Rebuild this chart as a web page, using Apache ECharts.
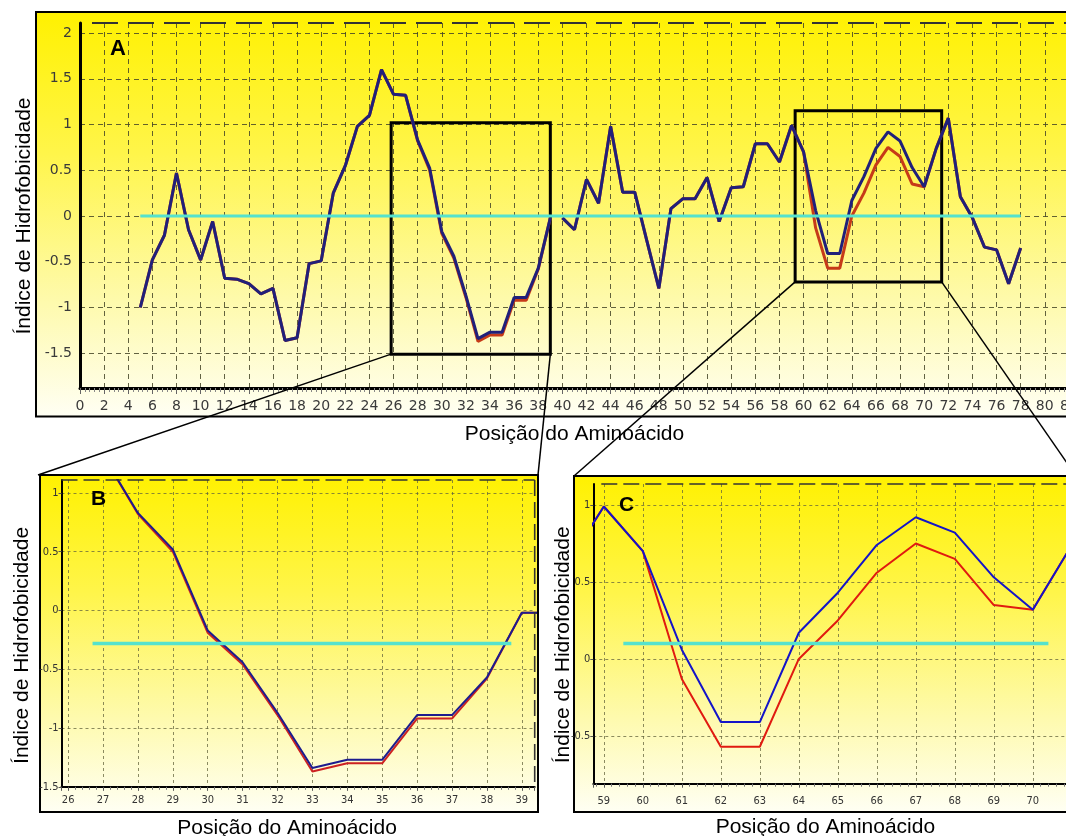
<!DOCTYPE html>
<html><head><meta charset="utf-8">
<script src="https://cdn.jsdelivr.net/npm/echarts@6/dist/echarts.min.js"></script>
<style>html,body{margin:0;padding:0;background:#fff}#c{width:1066px;height:836px}</style>
</head><body><div id="c"></div>
<script>
// ---------------- data ----------------
const positions = [5,6,7,8,9,10,11,12,13,14,15,16,17,18,19,20,21,22,23,24,25,26,27,28,29,30,31,32,33,34,35,36,37,38,39,40,41,42,43,44,45,46,47,48,49,50,51,52,53,54,55,56,57,58,59,60,61,62,63,64,65,66,67,68,69,70,71,72,73,74,75,76,77,78];
const hydroBlue = [-1.00,-0.48,-0.21,0.47,-0.15,-0.48,-0.06,-0.68,-0.69,-0.74,-0.85,-0.79,-1.36,-1.33,-0.52,-0.49,0.25,0.55,0.98,1.10,1.60,1.33,1.32,0.83,0.52,-0.17,-0.44,-0.87,-1.34,-1.27,-1.27,-0.89,-0.89,-0.57,-0.02,-0.02,-0.15,0.40,0.14,0.98,0.26,0.26,-0.27,-0.79,0.08,0.19,0.19,0.42,-0.06,0.31,0.32,0.79,0.79,0.59,0.99,0.70,0.06,-0.41,-0.41,0.17,0.43,0.74,0.92,0.82,0.53,0.32,0.74,1.07,0.21,-0.02,-0.34,-0.37,-0.74,-0.35];
const hydroRed  = [-1.00,-0.48,-0.21,0.47,-0.15,-0.48,-0.06,-0.68,-0.69,-0.74,-0.85,-0.79,-1.36,-1.33,-0.52,-0.49,0.25,0.55,0.98,1.10,1.60,1.33,1.32,0.82,0.50,-0.19,-0.46,-0.89,-1.37,-1.30,-1.30,-0.92,-0.92,-0.58,-0.02,-0.02,-0.15,0.40,0.14,0.98,0.26,0.26,-0.27,-0.79,0.08,0.19,0.19,0.42,-0.06,0.31,0.32,0.79,0.79,0.59,0.99,0.70,-0.13,-0.57,-0.57,0.00,0.25,0.56,0.75,0.65,0.35,0.32,0.74,1.07,0.21,-0.02,-0.34,-0.37,-0.74,-0.35];
const gapAfterA = 39;           // break drawn in panel A between 39 and 40
// reference (cyan) lines: [xStart, xEnd], level
const cyanSpanA = [5, 78],     cyanLevelA = 0;
const cyanSpanB = [26.7, 38.7], cyanLevelB = -0.28;
const cyanSpanC = [59.5, 70.4], cyanLevelC = 0.10;
// zoom boxes in panel A: [xMin, xMax, yMin, yMax]
const boxB = [25.8, 39.0, -1.51, 1.02];
const boxC = [59.3, 71.45, -0.72, 1.15];
// axis ranges
const rangeA = {x:[0, 82], y:[-1.88, 2.11]};
const rangeB = {x:[25.81, 39.37], y:[-1.5, 1.11]};
const rangeC = {x:[58.73, 71.3], y:[-0.81, 1.136]};
const titleY = 'Índice de Hidrofobicidade';
const titleX = 'Posição do Aminoácido';

// ---------------- layout / style ----------------
const FONT = "'Liberation Sans', Arial, Helvetica, sans-serif";
const NARROW = "'Liberation Sans Narrow', 'DejaVu Sans Condensed', 'Liberation Sans', sans-serif";
const frames = [ [36,12,1040,404.5], [40,475,498,337], [574,476,510,336] ];
const yellow = () => ({type:'linear', x:0, y:0, x2:0, y2:1, colorStops:[
  {offset:0, color:'#fff100'}, {offset:0.35, color:'#fff54a'},
  {offset:0.72, color:'#fefaae'}, {offset:1, color:'#fffff4'}]});

function pts(xs, ys){ return xs.map((x,i)=>[x, ys[i]]); }
function ptsGap(xs, ys, g){ const o=[]; xs.forEach((x,i)=>{ o.push([x, ys[i]]); if(x===g) o.push([x+0.5,'-']); }); return o; }
function span(s, l){ return [[s[0], l],[s[1], l]]; }

const chart = echarts.init(document.getElementById('c'), null, {renderer:'canvas', width:1066, height:836});

const gridA = {left:80, top:23, width:988.9, height:365, outerBoundsMode:'none', containLabel:false};
const gridB = {left:61.5, top:480, width:473.2, height:306.8, outerBoundsMode:'none', containLabel:false};
const gridC = {left:593.3, top:484, width:490.2, height:299.7, outerBoundsMode:'none', containLabel:false};

function xAxisBig(){
  return {gridIndex:0, type:'value', min:rangeA.x[0], max:rangeA.x[1], interval:2,
    axisLine:{show:true, onZero:false, lineStyle:{color:'#000', width:3}},
    axisTick:{show:true, length:6, lineStyle:{color:'#666'}},
    minorTick:{show:true, splitNumber:5, length:4, lineStyle:{color:'#888'}},
    axisLabel:{margin:11, fontFamily:'DejaVu Sans', fontSize:14, color:'#3a3a3a'},
    splitLine:{show:true, lineStyle:{color:'rgba(70,70,40,0.85)', width:1, type:[5,4]}},
    name:titleX, nameLocation:'middle', nameGap:36, nameMoveOverlap:false,
    nameTextStyle:{fontFamily:FONT, fontSize:21, color:'#000'}};
}
function xAxisSmall(idx, r, padRight, lblMargin, gap){
  return {gridIndex:idx, type:'value', min:r.x[0], max:r.x[1], minInterval:1, maxInterval:1, splitNumber:12,
    axisLine:{show:true, onZero:false, lineStyle:{color:'#000', width:2}},
    axisTick:{show:true, length:4, lineStyle:{color:'#555'}},
    minorTick:{show:true, splitNumber:5, length:3, lineStyle:{color:'#777'}},
    axisLabel:{margin:lblMargin, fontFamily:NARROW, fontSize:11, color:'#333', showMinLabel:false, showMaxLabel:false},
    splitLine:{show:true, showMinLine:false, showMaxLine:false, lineStyle:{color:'rgba(100,100,60,0.75)', width:1, type:[3,3]}},
    name:titleX, nameLocation:'middle', nameGap:gap, nameMoveOverlap:false,
    nameTextStyle:{fontFamily:FONT, fontSize:21, color:'#000', padding:[0,padRight,0,0]}};
}
function yAxisSmall(idx, r, showMin, gap, padR){
  return {gridIndex:idx, type:'value', min:r.y[0], max:r.y[1], minInterval:0.5, maxInterval:0.5, splitNumber:5,
    axisLine:{show:true, onZero:false, lineStyle:{color:'#000', width:2}},
    axisTick:{show:true, length:3, lineStyle:{color:'#555'}},
    axisLabel:{margin:3, fontFamily:NARROW, fontSize:11, color:'#333', showMinLabel:showMin, showMaxLabel:false},
    splitLine:{show:true, showMinLine:false, showMaxLine:false, lineStyle:{color:'rgba(100,100,60,0.75)', width:1, type:[3,3]}},
    name:titleY, nameLocation:'middle', nameRotate:90, nameGap:gap, nameMoveOverlap:false,
    nameTextStyle:{fontFamily:FONT, fontSize:21, color:'#000', padding:[0,padR,0,0]}};
}

function lineSeries(xi, data, color, width, z, extra){
  return Object.assign({type:'line', xAxisIndex:xi, yAxisIndex:xi, data:data, symbol:'none',
    lineStyle:{color:color, width:width}, itemStyle:{color:color}, z:z, silent:true, animation:false, connectNulls:false}, extra||{});
}

const boxStyle = {color:'rgba(0,0,0,0)', borderColor:'#000', borderWidth:3};

chart.setOption({
  animation:false,
  title:[
    {text:'A', left:110, top:38, padding:0, textStyle:{fontFamily:FONT, fontSize:22, fontWeight:'bold', color:'#000'}},
    {text:'B', left:91, top:489, padding:0, textStyle:{fontFamily:FONT, fontSize:21, fontWeight:'bold', color:'#000'}},
    {text:'C', left:619, top:495, padding:0, textStyle:{fontFamily:FONT, fontSize:21, fontWeight:'bold', color:'#000'}}
  ],
  grid:[gridA, gridB, gridC],
  xAxis:[xAxisBig(), xAxisSmall(1, rangeB, 22, 8, 31), xAxisSmall(2, rangeC, 26, 12, 33)],
  yAxis:[
    {gridIndex:0, type:'value', min:rangeA.y[0], max:rangeA.y[1], minInterval:0.5, maxInterval:0.5, splitNumber:8,
      axisLine:{show:true, onZero:false, lineStyle:{color:'#000', width:3}},
      axisTick:{show:false},
      axisLabel:{margin:8, fontFamily:'DejaVu Sans', fontSize:14, color:'#3a3a3a', showMinLabel:false, showMaxLabel:false},
      splitLine:{show:true, showMinLine:false, showMaxLine:false, lineStyle:{color:'rgba(70,70,40,0.85)', width:1, type:[5,4]}},
      name:titleY, nameLocation:'middle', nameRotate:90, nameGap:45, nameMoveOverlap:false,
      nameTextStyle:{fontFamily:FONT, fontSize:21, color:'#000', padding:[0,21,0,0]}},
    yAxisSmall(1, rangeB, true, 29, 24),
    yAxisSmall(2, rangeC, false, 20, 22)
  ],
  series:[
    lineSeries(0, ptsGap(positions, hydroRed, gapAfterA), '#c63a18', 3, 3),
    lineSeries(0, ptsGap(positions, hydroBlue, gapAfterA), '#20207a', 3, 4, {
      markArea:{silent:true, itemStyle:boxStyle, label:{show:false},
        data:[[{xAxis:boxB[0], yAxis:boxB[3]},{xAxis:boxB[1], yAxis:boxB[2]}],
              [{xAxis:boxC[0], yAxis:boxC[3]},{xAxis:boxC[1], yAxis:boxC[2]}]]}}),
    lineSeries(0, span(cyanSpanA, cyanLevelA), '#55e2cd', 3, 5),
    lineSeries(1, pts(positions, hydroRed), '#cc2222', 2, 3),
    lineSeries(1, pts(positions, hydroBlue), '#1c1c8e', 2, 4),
    lineSeries(1, span(cyanSpanB, cyanLevelB), '#55e2cd', 3.5, 5),
    lineSeries(2, pts(positions, hydroRed), '#e01a10', 2, 3),
    lineSeries(2, pts(positions, hydroBlue), '#1414c8', 2, 4),
    lineSeries(2, span(cyanSpanC, cyanLevelC), '#55e2cd', 3.5, 5)
  ]
});

// ---------------- decorations: frames, dashed borders, connectors ----------------
const els = [];
frames.forEach(f => els.push({type:'rect', z:-5, silent:true,
  shape:{x:f[0], y:f[1], width:f[2], height:f[3]}, style:{fill:yellow(), stroke:'#000', lineWidth:2}}));
function dash(x1,y1,x2,y2,d,w){ els.push({type:'line', z:6, silent:true, shape:{x1,y1,x2,y2}, style:{stroke:'#333', lineWidth:w, lineDash:d}}); }
const aTL = chart.convertToPixel({gridIndex:0}, [rangeA.x[0], rangeA.y[1]]);
dash(aTL[0]+12, aTL[1], 1066, aTL[1], [26,10], 2);
const bTL = chart.convertToPixel({gridIndex:1}, [rangeB.x[0], rangeB.y[1]]);
const bBR = chart.convertToPixel({gridIndex:1}, [rangeB.x[1], rangeB.y[0]]);
dash(bTL[0], bTL[1], bBR[0], bTL[1], [16,6], 1.6);
dash(bBR[0], bTL[1], bBR[0], bBR[1], [16,6], 1.6);
const cTL = chart.convertToPixel({gridIndex:2}, [rangeC.x[0], rangeC.y[1]]);
dash(cTL[0]+8, cTL[1], 1066, cTL[1], [16,6], 1.6);
function conn(p, q){ els.push({type:'line', z:20, silent:true, shape:{x1:p[0], y1:p[1], x2:q[0], y2:q[1]}, style:{stroke:'#000', lineWidth:1.5}}); }
const bl1 = chart.convertToPixel({gridIndex:0}, [boxB[0], boxB[2]]);
const br1 = chart.convertToPixel({gridIndex:0}, [boxB[1], boxB[2]]);
const bl2 = chart.convertToPixel({gridIndex:0}, [boxC[0], boxC[2]]);
const br2 = chart.convertToPixel({gridIndex:0}, [boxC[1], boxC[2]]);
conn(bl1, [frames[1][0]-2, frames[1][1]]);
conn(br1, [frames[1][0]+frames[1][2], frames[1][1]]);
conn(bl2, [frames[2][0], frames[2][1]]);
conn(br2, [frames[2][0]+frames[2][2]-8, frames[2][1]]);
chart.setOption({graphic:{elements:els}});
</script></body></html>
